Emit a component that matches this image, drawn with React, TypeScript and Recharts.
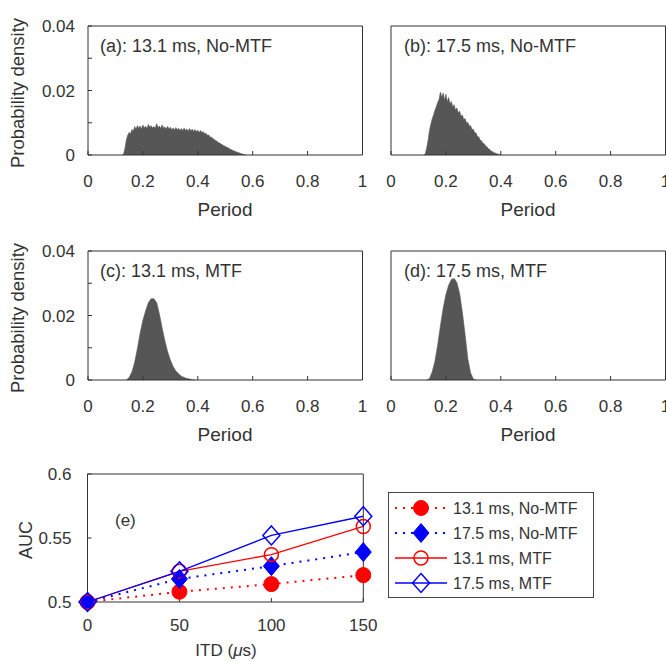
import React from 'react';
import { AreaChart, Area, LineChart, Line, XAxis, YAxis } from 'recharts';

// histogram bins: [period, probability density]
const histA: [number, number][] = [
  [0.125, 0], [0.13, 0.0004], [0.135, 0.0022], [0.14, 0.0048], [0.145, 0.0062], [0.15, 0.007],
  [0.155, 0.0066], [0.16, 0.0079], [0.165, 0.0074], [0.17, 0.0088], [0.175, 0.008], [0.18, 0.0091],
  [0.185, 0.0083], [0.19, 0.009], [0.195, 0.0081], [0.2, 0.0093], [0.205, 0.0084], [0.21, 0.0089],
  [0.215, 0.0082], [0.22, 0.0095], [0.225, 0.0086], [0.23, 0.0091], [0.235, 0.0084], [0.24, 0.0088],
  [0.245, 0.0083], [0.25, 0.0097], [0.255, 0.0085], [0.26, 0.009], [0.265, 0.0082], [0.27, 0.0093],
  [0.275, 0.0084], [0.28, 0.0087], [0.285, 0.008], [0.29, 0.0089], [0.295, 0.0081], [0.3, 0.0086],
  [0.305, 0.0078], [0.31, 0.0084], [0.315, 0.0077], [0.32, 0.0085], [0.325, 0.0078], [0.33, 0.0083],
  [0.335, 0.0076], [0.34, 0.0082], [0.345, 0.0075], [0.35, 0.0084], [0.355, 0.0076], [0.36, 0.0081],
  [0.365, 0.0074], [0.37, 0.0082], [0.375, 0.0075], [0.38, 0.008], [0.385, 0.0073], [0.39, 0.0079],
  [0.395, 0.0071], [0.4, 0.0077], [0.405, 0.007], [0.41, 0.0076], [0.415, 0.007], [0.42, 0.0072],
  [0.425, 0.0066], [0.43, 0.0067], [0.435, 0.0061], [0.44, 0.0062], [0.445, 0.0055], [0.45, 0.0056],
  [0.455, 0.005], [0.46, 0.0049], [0.465, 0.0044], [0.47, 0.0043], [0.475, 0.0038], [0.48, 0.0037],
  [0.485, 0.0033], [0.49, 0.0032], [0.495, 0.0028], [0.5, 0.0027], [0.505, 0.0024], [0.51, 0.0023],
  [0.515, 0.0019], [0.52, 0.0018], [0.525, 0.0015], [0.53, 0.0014], [0.535, 0.0011], [0.54, 0.001],
  [0.545, 0.0008], [0.55, 0.0007], [0.555, 0.0005], [0.56, 0.0004], [0.565, 0.0002], [0.57, 0.0001],
  [0.575, 0]
];

const histB: [number, number][] = [
  [0.12, 0], [0.125, 0.0004], [0.13, 0.0022], [0.135, 0.0045], [0.14, 0.0075], [0.145, 0.0095],
  [0.15, 0.0112], [0.155, 0.0124], [0.16, 0.0138], [0.165, 0.015], [0.17, 0.0163], [0.175, 0.0172],
  [0.18, 0.0195], [0.185, 0.0178], [0.19, 0.0192], [0.195, 0.017], [0.2, 0.0188], [0.205, 0.0165],
  [0.21, 0.0178], [0.215, 0.0158], [0.22, 0.0166], [0.225, 0.0148], [0.23, 0.0156], [0.235, 0.0139],
  [0.24, 0.0146], [0.245, 0.013], [0.25, 0.0136], [0.255, 0.012], [0.26, 0.0124], [0.265, 0.011],
  [0.27, 0.0113], [0.275, 0.0099], [0.28, 0.0101], [0.285, 0.009], [0.29, 0.0091], [0.295, 0.0079],
  [0.3, 0.008], [0.305, 0.0069], [0.31, 0.0068], [0.315, 0.0057], [0.32, 0.0056], [0.325, 0.0046],
  [0.33, 0.0044], [0.335, 0.0036], [0.34, 0.0035], [0.345, 0.0027], [0.35, 0.0025], [0.355, 0.0019],
  [0.36, 0.0017], [0.365, 0.0012], [0.37, 0.0011], [0.375, 0.0007], [0.38, 0.0006], [0.385, 0.0004],
  [0.39, 0.0003], [0.395, 0.0001], [0.4, 0]
];

const histC: [number, number][] = [
  [0.14, 0], [0.15, 0.0008], [0.16, 0.0025], [0.17, 0.0055], [0.18, 0.0098], [0.19, 0.0146],
  [0.2, 0.0185], [0.21, 0.0215], [0.22, 0.024], [0.23, 0.0252], [0.24, 0.0252], [0.25, 0.024],
  [0.26, 0.0205], [0.27, 0.0162], [0.28, 0.0122], [0.29, 0.0088], [0.3, 0.0062], [0.31, 0.0042],
  [0.32, 0.0028], [0.33, 0.0019], [0.34, 0.0012], [0.35, 0.0008], [0.36, 0.0005], [0.37, 0.0003],
  [0.38, 0.0001], [0.39, 0]
];

const histD: [number, number][] = [
  [0.13, 0], [0.14, 0.0004], [0.15, 0.0025], [0.16, 0.0058], [0.17, 0.0108], [0.18, 0.0168],
  [0.19, 0.0222], [0.2, 0.0265], [0.21, 0.0294], [0.22, 0.0312], [0.23, 0.0315], [0.24, 0.0302],
  [0.25, 0.0268], [0.26, 0.021], [0.27, 0.014], [0.28, 0.0065], [0.29, 0.0022], [0.3, 0.0003],
  [0.31, 0]
];

const PERIOD_TICKS = [0, 0.2, 0.4, 0.6, 0.8, 1];
const DENSITY_TICKS = [0, 0.01, 0.02, 0.03, 0.04];

// panel (e)
const ITD = [0, 50, 100, 150];
const auc131NoMtf = [0.5, 0.508, 0.514, 0.521];
const auc175NoMtf = [0.5, 0.518, 0.528, 0.539];
const auc131Mtf = [0.5, 0.524, 0.537, 0.559];
const auc175Mtf = [0.5, 0.524, 0.552, 0.567];
const ITD_TICKS = [0, 50, 100, 150];
const AUC_TICKS = [0.5, 0.55, 0.6];

const FONT = '"Liberation Sans", Arial, sans-serif';
const INK = '#333';
const HIST_FILL = '#565656';

const axisLine = { stroke: INK, strokeWidth: 1 };
const tickText = { fill: INK, fontSize: 17, fontFamily: FONT };

function HistPanel ({ data, left, top, yLabels }: { data: [number, number][]; left: number; top: number; yLabels: boolean }) {
  const rows = data.map(([period, density]) => ({ period, density }));
  return (
    <div style={{ position: 'absolute', left, top }}>
      <AreaChart
        width={380}
        height={200}
        data={rows}
        margin={{ top: 20, right: 7.5, bottom: 15, left: 48 }}
      >
        <XAxis
          dataKey="period"
          type="number"
          domain={[0, 1]}
          ticks={PERIOD_TICKS}
          interval={0}
          height={30}
          tickSize={-4}
          tickMargin={24}
          axisLine={axisLine}
          tickLine={axisLine}
          tick={tickText}
        />
        <XAxis
          xAxisId="top"
          orientation="top"
          dataKey="period"
          type="number"
          domain={[0, 1]}
          ticks={PERIOD_TICKS}
          interval={0}
          height={6}
          tickSize={-4}
          axisLine={axisLine}
          tickLine={axisLine}
          tick={false}
        />
        <YAxis
          type="number"
          domain={[0, 0.04]}
          ticks={DENSITY_TICKS}
          interval={0}
          width={40}
          tickSize={-4}
          tickMargin={17}
          axisLine={axisLine}
          tickLine={axisLine}
          tick={yLabels ? tickText : false}
          tickFormatter={(v: number) => (Math.round(v * 100) % 2 === 0 ? String(v) : '')}
        />
        <YAxis
          yAxisId="right"
          orientation="right"
          type="number"
          domain={[0, 0.04]}
          ticks={DENSITY_TICKS}
          interval={0}
          width={10}
          tickSize={-4}
          axisLine={axisLine}
          tickLine={axisLine}
          tick={false}
        />
        <Area
          dataKey="density"
          type="linear"
          stroke={HIST_FILL}
          strokeWidth={0.6}
          fill={HIST_FILL}
          fillOpacity={1}
          isAnimationActive={false}
        />
      </AreaChart>
    </div>
  );
}

type MarkerKind = 'circle' | 'diamond';

function markerShape (kind: MarkerKind, filled: boolean, color: string, cx: number, cy: number, key?: string | number) {
  if (kind === 'circle') {
    return filled
      ? <circle key={key} cx={cx} cy={cy} r={7.5} fill={color} stroke={color} />
      : <circle key={key} cx={cx} cy={cy} r={7} fill="none" stroke={color} strokeWidth={1.5} />;
  }
  const hw = filled ? 8 : 8.5;
  const hh = 9.5;
  const pts = `${cx},${cy - hh} ${cx + hw},${cy} ${cx},${cy + hh} ${cx - hw},${cy}`;
  return filled
    ? <polygon key={key} points={pts} fill={color} stroke={color} />
    : <polygon key={key} points={pts} fill="none" stroke={color} strokeWidth={1.5} />;
}

const SERIES = [
  { key: 's1', label: '13.1 ms, No-MTF', values: auc131NoMtf, color: '#ff0000', dotted: true, kind: 'circle' as MarkerKind, filled: true },
  { key: 's2', label: '17.5 ms, No-MTF', values: auc175NoMtf, color: '#0000ff', dotted: true, kind: 'diamond' as MarkerKind, filled: true },
  { key: 's3', label: '13.1 ms, MTF', values: auc131Mtf, color: '#ff0000', dotted: false, kind: 'circle' as MarkerKind, filled: false },
  { key: 's4', label: '17.5 ms, MTF', values: auc175Mtf, color: '#0000ff', dotted: false, kind: 'diamond' as MarkerKind, filled: false }
];

function AucPanel ({ left, top }: { left: number; top: number }) {
  const rows = ITD.map((itd, i) => {
    const row: Record<string, number> = { itd };
    SERIES.forEach(s => { row[s.key] = s.values[i]; });
    return row;
  });
  return (
    <div style={{ position: 'absolute', left, top }}>
      <LineChart
        width={380}
        height={200}
        data={rows}
        margin={{ top: 20, right: 6.7, bottom: 16, left: 47.5 }}
      >
        <XAxis
          dataKey="itd"
          type="number"
          domain={[0, 150]}
          ticks={ITD_TICKS}
          interval={0}
          height={30}
          tickSize={-4}
          tickMargin={21}
          axisLine={axisLine}
          tickLine={axisLine}
          tick={tickText}
        />
        <XAxis
          xAxisId="top"
          orientation="top"
          dataKey="itd"
          type="number"
          domain={[0, 150]}
          ticks={ITD_TICKS}
          interval={0}
          height={6}
          tickSize={-4}
          axisLine={axisLine}
          tickLine={axisLine}
          tick={false}
        />
        <YAxis
          type="number"
          domain={[0.5, 0.6]}
          ticks={AUC_TICKS}
          interval={0}
          width={40}
          tickSize={-4}
          tickMargin={20}
          axisLine={axisLine}
          tickLine={axisLine}
          tick={tickText}
          tickFormatter={(v: number) => String(v)}
        />
        <YAxis
          yAxisId="right"
          orientation="right"
          type="number"
          domain={[0.5, 0.6]}
          ticks={AUC_TICKS}
          interval={0}
          width={10}
          tickSize={-4}
          axisLine={axisLine}
          tickLine={axisLine}
          tick={false}
        />
        {SERIES.map(s => (
          <Line
            key={s.key}
            dataKey={s.key}
            type="linear"
            stroke={s.color}
            strokeWidth={s.dotted ? 2 : 1.3}
            strokeDasharray={s.dotted ? '2 6' : undefined}
            dot={(p: any) => markerShape(s.kind, s.filled, s.color, p.cx, p.cy, `${s.key}-${p.index}`)}
            activeDot={false}
            isAnimationActive={false}
          />
        ))}
      </LineChart>
    </div>
  );
}

function AucLegend () {
  const rowY = [508, 533, 558, 583];
  return (
    <g>
      <rect x={388.5} y={492.5} width={205} height={105} fill="#fff" stroke="#444" strokeWidth={1} />
      {SERIES.map((s, i) => (
        <g key={s.key}>
          <line
            x1={395}
            x2={447}
            y1={rowY[i]}
            y2={rowY[i]}
            stroke={s.color}
            strokeWidth={s.dotted ? 2 : 1.3}
            strokeDasharray={s.dotted ? '2 6' : undefined}
          />
          {markerShape(s.kind, s.filled, s.color, 421, rowY[i])}
          <text x={453} y={rowY[i] + 6} fontSize={16} fontFamily={FONT} fill={INK}>{s.label}</text>
        </g>
      ))}
    </g>
  );
}

export default function App () {
  const labelStyle = { fontFamily: FONT, fill: INK };
  return (
    <div style={{ position: 'fixed', left: 0, top: 0, width: 666, height: 662, overflow: 'hidden', background: '#fff' }}>
      <HistPanel data={histA} left={0} top={0} yLabels />
      <HistPanel data={histB} left={302.8} top={0} yLabels={false} />
      <HistPanel data={histC} left={0} top={225} yLabels />
      <HistPanel data={histD} left={302.8} top={225} yLabels={false} />
      <AucPanel left={0} top={448} />
      <svg width={666} height={662} style={{ position: 'absolute', left: 0, top: 0, pointerEvents: 'none' }}>
        <text x={100} y={52} fontSize={18} {...labelStyle}>(a): 13.1 ms, No-MTF</text>
        <text x={404} y={52} fontSize={18} {...labelStyle}>(b): 17.5 ms, No-MTF</text>
        <text x={100} y={277} fontSize={18} {...labelStyle}>(c): 13.1 ms, MTF</text>
        <text x={404} y={277} fontSize={18} {...labelStyle}>(d): 17.5 ms, MTF</text>
        <text x={115} y={526} fontSize={17} {...labelStyle}>(e)</text>
        <text x={225} y={216} fontSize={19} textAnchor="middle" {...labelStyle}>Period</text>
        <text x={528} y={216} fontSize={19} textAnchor="middle" {...labelStyle}>Period</text>
        <text x={225} y={441} fontSize={19} textAnchor="middle" {...labelStyle}>Period</text>
        <text x={528} y={441} fontSize={19} textAnchor="middle" {...labelStyle}>Period</text>
        <text x={24} y={93} fontSize={18.5} textAnchor="middle" transform="rotate(-90 24 93)" {...labelStyle}>Probability density</text>
        <text x={24} y={318} fontSize={18.5} textAnchor="middle" transform="rotate(-90 24 318)" {...labelStyle}>Probability density</text>
        <text x={32} y={540} fontSize={18} textAnchor="middle" transform="rotate(-90 32 540)" {...labelStyle}>AUC</text>
        <text x={226} y={656} fontSize={17} textAnchor="middle" {...labelStyle}>
          ITD (<tspan fontStyle="italic">μ</tspan>s)
        </text>
        <AucLegend />
      </svg>
    </div>
  );
}
